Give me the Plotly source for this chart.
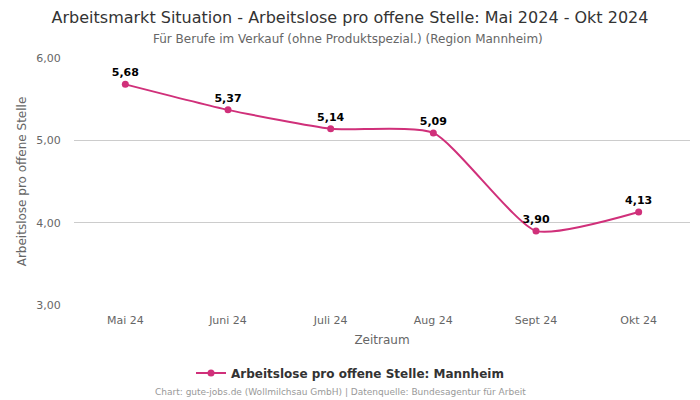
import plotly.graph_objects as go

categories = ["Mai 24", "Juni 24", "Juli 24", "Aug 24", "Sept 24", "Okt 24"]
values = [5.68, 5.37, 5.14, 5.09, 3.90, 4.13]
y_ticks = [3.0, 4.0, 5.0, 6.0]
y_tick_labels = ["3,00", "4,00", "5,00", "6,00"]

color = "#d0307a"
font = "DejaVu Sans"

fig = go.Figure()
fig.add_trace(go.Scatter(
    x=categories, y=values, mode="lines+markers+text",
    line=dict(color=color, width=2, shape="spline", smoothing=0.55),
    marker=dict(color=color, size=7),
    text=[f"{v:.2f}".replace(".", ",") for v in values],
    textposition="top center",
    textfont=dict(family=font, size=11, color="#000000", weight="bold"),
    name="Arbeitslose pro offene Stelle: Mannheim",
    cliponaxis=False,
))

fig.update_layout(
    width=700, height=400,
    margin=dict(l=74, r=10, t=58, b=95, autoexpand=False),
    paper_bgcolor="white", plot_bgcolor="white",
    font=dict(family=font, color="#666666"),
    title=dict(
        text="Arbeitsmarkt Situation - Arbeitslose pro offene Stelle: Mai 2024 - Okt 2024",
        x=0.5, xanchor="center", y=0.957, yanchor="middle",
        font=dict(family=font, size=16, color="#333333"),
    ),
    showlegend=True,
    legend=dict(orientation="h", xref="container", x=0.5, xanchor="center", y=-0.275, yanchor="middle",
                font=dict(family=font, size=12, color="#333333", weight="bold")),
    xaxis=dict(
        type="category", showgrid=False, showline=False,
        ticks="outside", ticklen=5, tickcolor="rgba(0,0,0,0)", automargin=False,
        tickfont=dict(family=font, size=11, color="#666666"),
        title=dict(text="Zeitraum", font=dict(family=font, size=12, color="#666666"), standoff=9),
        range=[-0.5, 5.5],
    ),
    yaxis=dict(
        range=[3.0, 6.0], tickvals=y_ticks, ticktext=y_tick_labels, automargin=False,
        showgrid=True, gridcolor="#cccccc", gridwidth=1, zeroline=False,
        ticks="outside", ticklen=10, tickcolor="rgba(0,0,0,0)",
        tickfont=dict(family=font, size=11, color="#666666"),
        title=dict(text="Arbeitslose pro offene Stelle", font=dict(family=font, size=12, color="#666666"), standoff=7),
    ),
)

fig.add_annotation(
    text="Für Berufe im Verkauf (ohne Produktspezial.) (Region Mannheim)",
    xref="paper", yref="paper", x=(348 - 74) / 616, y=1, yshift=19, xanchor="center", yanchor="middle",
    showarrow=False, font=dict(family=font, size=12, color="#666666"),
)
fig.add_annotation(
    text="Chart: gute-jobs.de (Wollmilchsau GmbH) | Datenquelle: Bundesagentur für Arbeit",
    xref="paper", yref="paper", x=(340 - 74) / 616, y=0, yshift=-87, xanchor="center", yanchor="middle",
    showarrow=False, font=dict(family=font, size=9, color="#999999"),
)

fig.write_html("out.html", config={"displayModeBar": False})
with open("out.html", encoding="utf-8") as f:
    html = f.read()
html = html.replace("<body>", '<body style="margin:0;padding:0;overflow:hidden">', 1)
with open("out.html", "w", encoding="utf-8") as f:
    f.write(html)
